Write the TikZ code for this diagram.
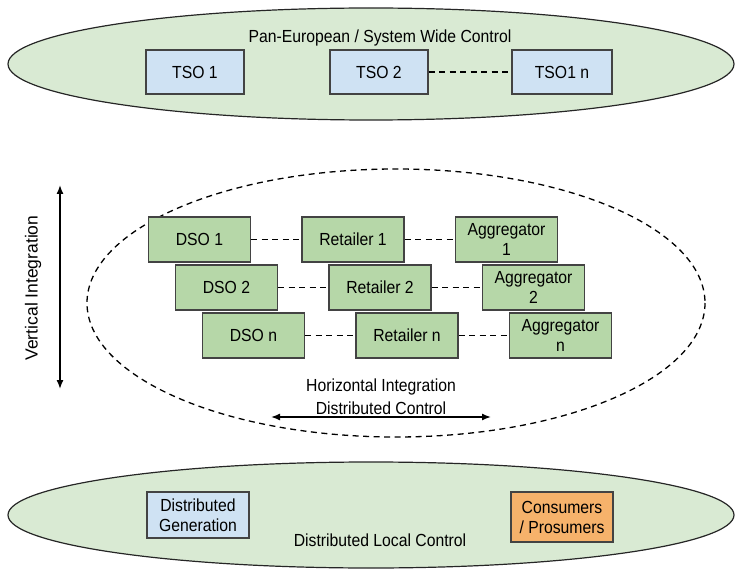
\documentclass[tikz,border=0pt]{standalone}
\usepackage{fontspec}
\setmainfont[FakeStretch=0.9]{Liberation Sans}
\newfontfamily\uprightsans{Liberation Sans}
\usepackage{xcolor}
\usetikzlibrary{arrows.meta, positioning}

\definecolor{zonegreen}{HTML}{D9EAD3}
\definecolor{boxgreen}{HTML}{B6D7A8}
\definecolor{boxblue}{HTML}{CFE2F3}
\definecolor{boxorange}{HTML}{F6B26B}
\definecolor{edgegray}{HTML}{434343}

\tikzset{
    actor/.style={draw=edgegray, line width=1.2pt, minimum width=102pt, minimum height=45pt,
                  align=center, inner sep=2pt, font=\fontsize{17.5}{20}\selectfont},
    zone/.style={draw=black!85, line width=1.2pt, fill=zonegreen},
    link/.style={line width=1.3pt, dash pattern=on 6pt off 4.5pt},
    lbl/.style={font=\fontsize{17.5}{20}\selectfont}
}

\begin{document}
\begin{tikzpicture}[x=1pt, y=-1pt]
    \useasboundingbox (0,0) rectangle (739,572);
    % control zones
    \draw[zone] (371,64) ellipse [x radius=363, y radius=56];
    \draw[zone] (371,515) ellipse [x radius=363, y radius=53];
    \draw[link] (396,303) ellipse [x radius=309, y radius=134];

    % transmission level
    \node[lbl] (pantitle) at (380,38) {Pan-European / System Wide Control};
    \node[actor, fill=boxblue, minimum width=98pt, minimum height=44pt] (tso1) at (195,72) {TSO 1};
    \node[actor, fill=boxblue, minimum width=98pt, minimum height=44pt] (tso2) at (379,72) {TSO 2};
    \node[actor, fill=boxblue, minimum width=100pt, minimum height=44pt] (tson) at (562,72) {TSO1 n};
    \draw[link] (tso2) -- (tson);

    % distribution level, one row per index
    \foreach \r/\n/\dx/\dy in {1/1/0/0, 2/2/27/48, 3/n/54/96} {
        \node[actor, fill=boxgreen] (dso\r) at (199.5+\dx,239.5+\dy) {DSO \n};
        \node[actor, fill=boxgreen] (ret\r) at (353+\dx,239.5+\dy) {Retailer \n};
        \node[actor, fill=boxgreen] (agg\r) at (506.5+\dx,239.5+\dy) {Aggregator\\\n};
        \draw[link] (dso\r) -- (ret\r);
        \draw[link] (ret\r) -- (agg\r);
    }

    % integration axes
    \coordinate (vtop) at (60,185);
    \coordinate (vbot) at (60,389);
    \draw[line width=1.4pt, {Latex[length=9pt,width=7pt]}-{Latex[length=9pt,width=7pt]}] (vtop) -- (vbot);
    \node[font=\uprightsans\fontsize{17.5}{20}\selectfont, rotate=90] (vlabel) at (33,288) {Vertical Integration};

    \node[lbl] (hlabel) at (381,387) {Horizontal Integration};
    \node[lbl] (dctrl) at (381,408) {Distributed Control};
    \coordinate (hleft) at (271,417);
    \coordinate (hright) at (491,417);
    \draw[line width=1.4pt, {Latex[length=9pt,width=7pt]}-{Latex[length=9pt,width=7pt]}] (hleft) -- (hright);

    % local level
    \node[actor, fill=boxblue, minimum height=46pt] (dgen) at (198,515) {Distributed\\Generation};
    \node[actor, fill=boxorange, minimum height=50pt] (cons) at (562,517) {Consumers\\/ Prosumers};
    \node[lbl] (localtitle) at (380,540) {Distributed Local Control};
\end{tikzpicture}
\end{document}
